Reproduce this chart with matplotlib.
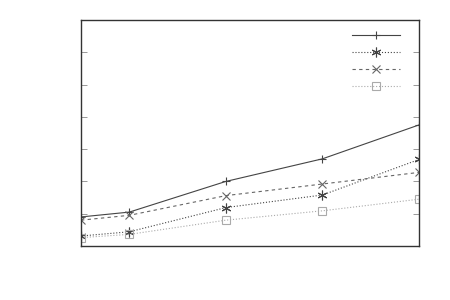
import numpy as np
import matplotlib
matplotlib.use('Agg')
import matplotlib.pyplot as plt

x = [0, 1, 3, 5, 7]
s1 = [0.90, 1.05, 2.00, 2.70, 3.75]
s2 = [0.31, 0.44, 1.19, 1.58, 2.68]
s3 = [0.80, 0.95, 1.56, 1.92, 2.28]
s4 = [0.26, 0.36, 0.80, 1.09, 1.45]
yticks = [0, 1, 2, 3, 4, 5, 6, 7]

fig = plt.figure(figsize=(4.5, 3), dpi=100)
ax = fig.add_axes([81 / 450, 54 / 300, 338 / 450, 226 / 300])

l1, = ax.plot(x, s1, color='#444444', lw=0.8, ls='-', marker='+', ms=6, mew=0.8)
l2, = ax.plot(x, s2, color='#444444', lw=0.8, ls=':', marker=(6, 2, 0), ms=7, mew=0.8)
l3, = ax.plot(x, s3, color='#666666', lw=0.8, ls=(0, (3, 3)), marker='x', ms=6, mew=0.8)
l4, = ax.plot(x, s4, color='#aaaaaa', lw=0.8, ls=':', marker='s', ms=6, mew=0.8,
              mfc='none')

ax.set_xlim(0, 7)
ax.set_ylim(0, 7)
ax.set_yticks(yticks)
ax.set_xticks([])
ax.tick_params(axis='y', direction='in', length=4, width=0.6, colors='#888888',
               left=True, right=True, labelleft=False)
for sp in ax.spines.values():
    sp.set_color('#333333')
    sp.set_linewidth(1.0)

ax.legend([l1, l2, l3, l4], ['', '', '', ''], loc='upper left',
          bbox_to_anchor=(352 / 450, 269 / 300), bbox_transform=fig.transFigure,
          frameon=False, numpoints=1, handlelength=4.3, handletextpad=0,
          labelspacing=0.62, fontsize=8, borderaxespad=0, borderpad=0)

fig.savefig('out.png', dpi=100)
